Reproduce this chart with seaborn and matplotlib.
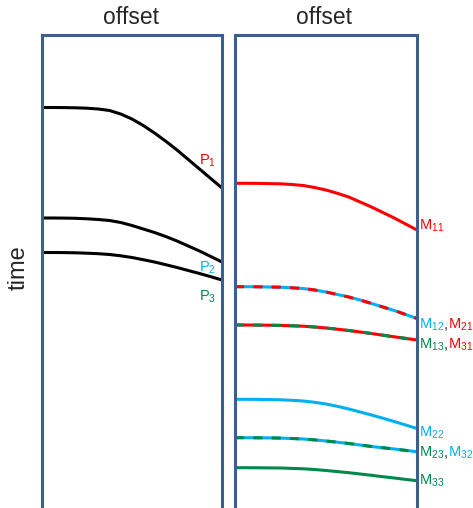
################################################################################
# Schematic: primaries (left) vs multiples (right), offset vs time
################################################################################

import numpy as np
import pandas as pd
import seaborn as sns
import matplotlib.pyplot as plt
from matplotlib.offsetbox import TextArea, HPacker, AnnotationBbox

sns.set_style('white')
plt.rcParams['font.family'] = ['Liberation Sans', 'DejaVu Sans']
plt.rcParams['mathtext.fontset'] = 'custom'
plt.rcParams['mathtext.rm'] = 'Liberation Sans'

################################################################################
# data (time, arbitrary units, increasing downward)

offset = [0, 0.0625, 0.125, 0.1875, 0.25, 0.3125, 0.375, 0.4375, 0.5,
          0.5625, 0.625, 0.6875, 0.75, 0.8125, 0.875, 0.9375, 1.0]

P1 = [107.5, 107.5, 107.6, 107.8, 108.2, 109.0, 110.5, 114.0, 119.0,
      125.5, 133.0, 141.2, 150.0, 159.5, 169.0, 178.5, 188.0]
P2 = [218.0, 218.0, 218.1, 218.3, 218.8, 219.5, 220.5, 222.5, 225.5,
      229.0, 232.5, 236.5, 241.0, 246.0, 251.0, 256.5, 262.0]
P3 = [252.5, 252.5, 252.6, 252.8, 253.2, 253.7, 254.5, 255.8, 257.5,
      259.7, 262.0, 264.7, 267.5, 270.5, 273.5, 276.7, 280.0]

M11 = [183.3, 183.3, 183.4, 183.6, 183.8, 184.5, 185.5, 187.5, 190.0,
       193.3, 197.0, 202.0, 207.0, 212.5, 218.0, 224.0, 230.0]
M12 = [286.7, 286.7, 286.8, 287.0, 287.2, 287.8, 288.5, 290.0, 292.0,
       294.5, 297.0, 300.0, 303.5, 307.0, 310.5, 314.5, 318.5]
M13 = [325.0, 325.0, 325.1, 325.2, 325.4, 325.8, 326.2, 327.0, 328.0,
       329.2, 330.5, 332.0, 333.5, 335.2, 336.8, 338.4, 340.0]
M22 = [399.3, 399.3, 399.4, 399.6, 399.8, 400.3, 401.0, 402.3, 404.0,
       406.3, 409.0, 412.0, 415.0, 418.2, 421.5, 425.0, 428.5]
M23 = [437.7, 437.7, 437.8, 437.9, 438.1, 438.5, 439.0, 439.9, 441.0,
       442.2, 443.5, 445.0, 446.5, 447.8, 449.0, 450.4, 451.7]
M33 = [467.7, 467.7, 467.8, 467.9, 468.0, 468.4, 468.8, 469.5, 470.5,
       471.6, 472.7, 474.0, 475.3, 476.7, 478.0, 479.4, 480.7]

RED = '#FF0000'
BLUE = '#00B0F0'
GREEN = '#00894B'
FRAME = '#3D5F8E'
LW = 2.2
FS = 10.5

df_p = pd.DataFrame({'offset': offset, 'P1': P1, 'P2': P2, 'P3': P3})
df_m = pd.DataFrame({'offset': offset, 'M11': M11, 'M12': M12, 'M13': M13,
                     'M22': M22, 'M23': M23, 'M33': M33})

fig = plt.figure(figsize=(4.73, 5.08), dpi=100)
axL = fig.add_axes([42/473, 0, 180/473, 1-35/508])
axR = fig.add_axes([235/473, 0, 182/473, 1-35/508])

################################################################################
# left panel: primaries in black
for col in ['P1', 'P2', 'P3']:
    sns.lineplot(data=df_p, x='offset', y=col, ax=axL, color='black', lw=LW)

################################################################################
# right panel: multiples, dashed two-colour lines for mixed ones
def twocolor(col, base, dash):
    sns.lineplot(data=df_m, x='offset', y=col, ax=axR, color=base, lw=LW)
    sns.lineplot(data=df_m, x='offset', y=col, ax=axR, color=dash, lw=LW,
                 linestyle=(0, (3, 3)))

sns.lineplot(data=df_m, x='offset', y='M11', ax=axR, color=RED, lw=LW)
twocolor('M12', BLUE, RED)
twocolor('M13', RED, GREEN)
sns.lineplot(data=df_m, x='offset', y='M22', ax=axR, color=BLUE, lw=LW)
twocolor('M23', BLUE, GREEN)
sns.lineplot(data=df_m, x='offset', y='M33', ax=axR, color=GREEN, lw=LW)

for ax in [axL, axR]:
    ax.set_xlim(0, 1)
    ax.set_ylim(508, 35)
    ax.set_xlabel('')
    ax.set_ylabel('')
    ax.set_xticks([])
    ax.set_yticks([])
    for s in ['left', 'right', 'top']:
        ax.spines[s].set_color(FRAME)
        ax.spines[s].set_linewidth(2.2)
    ax.spines['bottom'].set_visible(False)

################################################################################
# labels
def label(ax, x, y, parts, ha=0.0):
    areas = [TextArea(s, textprops=dict(color=c, fontsize=FS)) for s, c in parts]
    box = HPacker(children=areas, align='baseline', pad=0, sep=0)
    ab = AnnotationBbox(box, (x, y), xycoords=('axes fraction', 'data'),
                        box_alignment=(ha, 0.5), frameon=False,
                        annotation_clip=False)
    ax.add_artist(ab)

label(axL, 0.87, 161, [('P$_1$', RED)])
label(axL, 0.87, 268, [('P$_2$', BLUE)])
label(axL, 0.87, 297, [('P$_3$', GREEN)])

label(axR, 1.01, 226, [('M$_{11}$', RED)])
label(axR, 1.01, 325, [('M$_{12}$', BLUE), (',', '#333333'), ('M$_{21}$', RED)])
label(axR, 1.01, 345, [('M$_{13}$', GREEN), (',', '#333333'), ('M$_{31}$', RED)])
label(axR, 1.01, 433, [('M$_{22}$', BLUE)])
label(axR, 1.01, 453, [('M$_{23}$', GREEN), (',', '#333333'), ('M$_{32}$', BLUE)])
label(axR, 1.01, 481, [('M$_{33}$', GREEN)])

fig.text(131/473, 1-18/508, 'offset', ha='center', va='center', fontsize=16.5)
fig.text(324/473, 1-18/508, 'offset', ha='center', va='center', fontsize=16.5)
fig.text(19/473, 1-268/508, 'time', ha='center', va='center', fontsize=17,
         rotation=90)

fig.savefig('out.png', dpi=100)
